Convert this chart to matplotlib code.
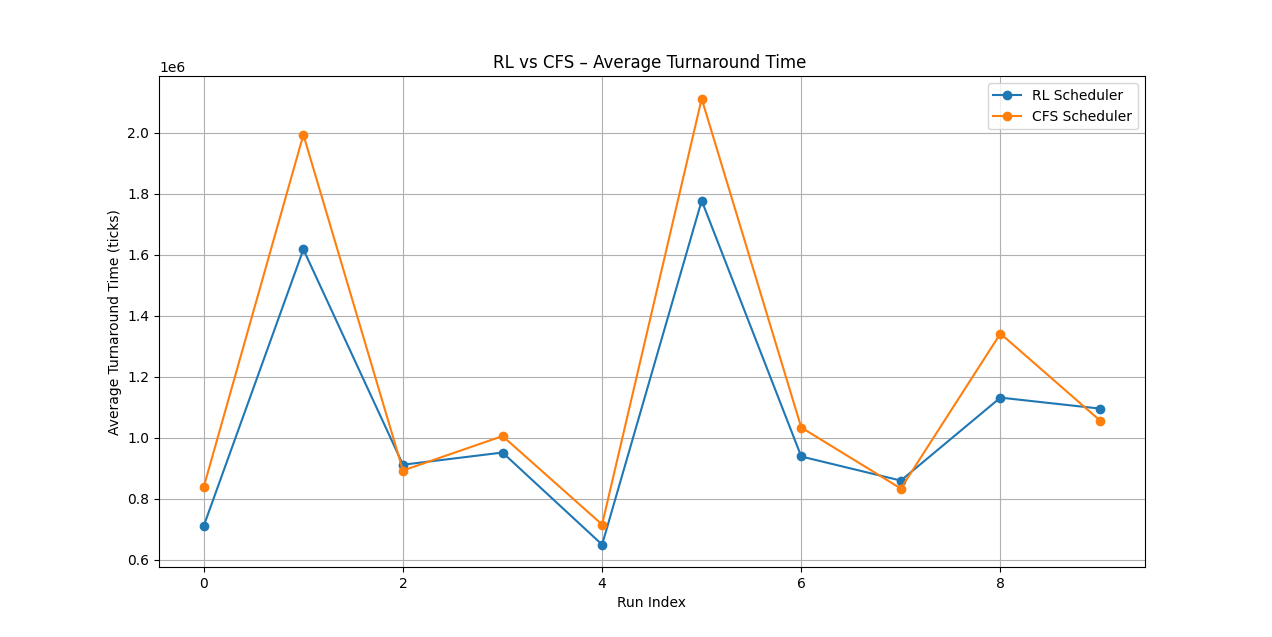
import matplotlib
matplotlib.use("Agg")
import matplotlib.pyplot as plt

runs = list(range(10))
rl_values = [0.711e6, 1.617e6, 0.911e6, 0.951e6, 0.649e6, 1.777e6, 0.938e6, 0.859e6, 1.131e6, 1.095e6]
cfs_values = [0.839e6, 1.993e6, 0.892e6, 1.005e6, 0.715e6, 2.111e6, 1.033e6, 0.833e6, 1.341e6, 1.056e6]

fig = plt.figure(figsize=(12.72, 6.37), dpi=100)
ax = fig.add_subplot(111)
ax.plot(runs, rl_values, marker='o', label='RL Scheduler')
ax.plot(runs, cfs_values, marker='o', label='CFS Scheduler')
ax.set_title('RL vs CFS – Average Turnaround Time ')
ax.set_xlabel('Run Index')
ax.set_ylabel('Average Turnaround Time (ticks)')
ax.legend()
ax.grid(True)
fig.savefig('out.png', dpi=100)
